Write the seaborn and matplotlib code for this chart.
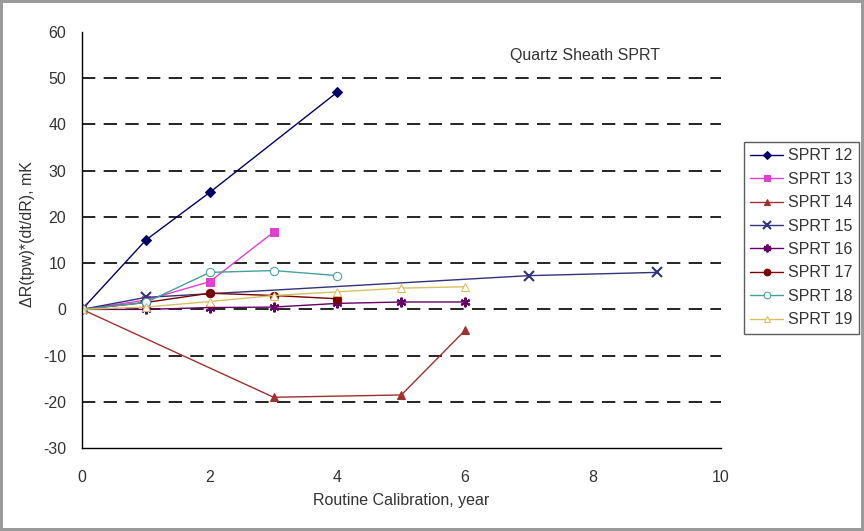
import numpy as np
import pandas as pd
import seaborn as sns
import matplotlib.pyplot as plt

# ------------------------------- DATA ---------------------------------
names = ['SPRT 12', 'SPRT 13', 'SPRT 14', 'SPRT 15',
         'SPRT 16', 'SPRT 17', 'SPRT 18', 'SPRT 19']

x12 = [0, 1, 2, 4]
y12 = [0, 15.0, 25.3, 47.0]
x13 = [0, 1, 2, 3]
y13 = [0, 2.0, 6.0, 16.7]
x14 = [0, 3, 5, 6]
y14 = [0, -19.0, -18.5, -4.5]
x15 = [0, 1, 7, 9]
y15 = [0, 2.6, 7.3, 8.0]
x16 = [0, 1, 2, 3, 4, 5, 6]
y16 = [0, 0.0, 0.4, 0.5, 1.3, 1.6, 1.6]
x17 = [0, 1, 2, 3, 4]
y17 = [0, 1.5, 3.5, 3.0, 2.3]
x18 = [0, 1, 2, 3, 4]
y18 = [0, 1.5, 8.0, 8.4, 7.3]
x19 = [0, 1, 2, 3, 4, 5, 6]
y19 = [0, 0.5, 1.7, 3.0, 3.8, 4.6, 4.9]

xs = [x12, x13, x14, x15, x16, x17, x18, x19]
ys = [y12, y13, y14, y15, y16, y17, y18, y19]

colors = ['#000066', '#e040d0', '#a03030', '#33337a',
          '#660066', '#7a0000', '#44a0a0', '#d8c060']
markers = ['D', 's', '^', 'x', (6, 2, 0), 'o', 'o', '^']
hollow = [False, False, False, False, False, False, True, True]
msizes = [5, 6, 6, 7, 7, 6, 6, 6]

# --------------------------------PLOT----------------------------------
sns.set_style('white')
plt.rcParams['font.family'] = ['Liberation Sans', 'DejaVu Sans']
plt.rcParams['axes.unicode_minus'] = False

fig = plt.figure(figsize=(8.64, 5.31), dpi=100)
fig.patch.set_edgecolor('#9a9a9a')
fig.patch.set_linewidth(3)
ax = fig.add_axes([0.095, 0.156, 0.739, 0.784])

for yv in [-20, -10, 0, 10, 20, 30, 40, 50]:
    ax.axhline(yv, color='black', lw=1.2, ls=(0, (8, 5)), zorder=0)

for i in range(len(names)):
    df = pd.DataFrame({'x': xs[i], 'y': ys[i]})
    kw = dict(marker=markers[i], markersize=msizes[i], color=colors[i],
              markeredgecolor=colors[i], linewidth=1.0, label=names[i])
    if hollow[i]:
        kw['markerfacecolor'] = 'white'
    if markers[i] in ['x', (6, 2, 0)]:
        kw['markeredgewidth'] = 1.5
    sns.lineplot(data=df, x='x', y='y', sort=False, ax=ax, **kw)

ax.set_xlim(0, 10)
ax.set_ylim(-30, 60)
ax.set_xticks(np.arange(0, 11, 2))
ax.set_yticks(np.arange(-30, 61, 10))
ax.tick_params(direction='inout', length=7, width=1, colors='black',
               labelsize=11.5, labelcolor='#333333')
ax.tick_params(axis='x', pad=12)
ax.tick_params(axis='y', pad=8)
for s in ['top', 'right']:
    ax.spines[s].set_visible(False)
for s in ['left', 'bottom']:
    ax.spines[s].set_color('black')
    ax.spines[s].set_linewidth(1)

ax.set_xlabel('Routine Calibration, year', fontsize=11.5, color='#333333', labelpad=6)
ax.set_ylabel('ΔR(tpw)*(dt/dR), mK', fontsize=11.5, color='#333333')
ax.yaxis.set_label_coords(-0.073, 0.515)
ax.text(6.7, 54.0, 'Quartz Sheath SPRT', fontsize=11.5, color='#333333')

leg = ax.legend(loc='upper left', bbox_to_anchor=(0.861, 0.733),
                bbox_transform=fig.transFigure, frameon=True, fancybox=False,
                edgecolor='#333333', fontsize=11.5, handlelength=2.05,
                labelspacing=0.53, borderpad=0.4, handletextpad=0.3,
                borderaxespad=0, markerscale=0.8)
leg.get_frame().set_linewidth(1)
for t in leg.get_texts():
    t.set_color('#333333')

plt.savefig('out.png', dpi=100)
